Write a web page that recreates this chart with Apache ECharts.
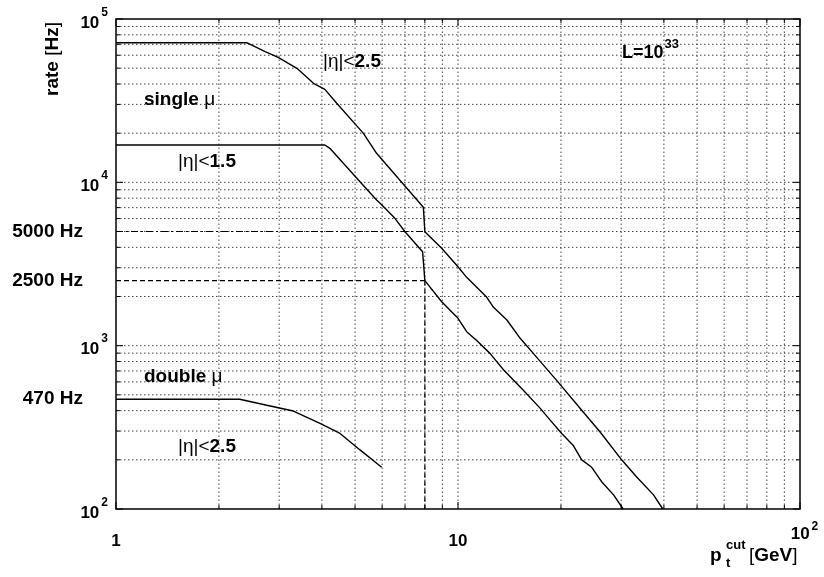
<!DOCTYPE html>
<html><head><meta charset="utf-8">
<script src="https://cdn.jsdelivr.net/npm/echarts@6/dist/echarts.min.js"></script>
<style>html,body{margin:0;padding:0;background:#fff}#c{width:824px;height:577px}</style>
</head><body><div id="c"></div>
<script>
// ---- data ----
const single25X = [1, 2.41, 2.73, 2.98, 3.38, 3.78, 4.08, 4.42, 5.29, 5.78, 7.16, 7.92, 8.0, 8.96, 10.0, 10.6, 12.1, 12.7, 13.9, 15.2, 16.6, 19.4, 23.2, 26.0, 30.1, 33.3, 37.3, 39.7];
const single25Y = [71600, 71600, 63100, 58200, 49900, 40400, 37100, 30500, 19950, 15060, 8970, 7030, 4980, 3945, 3040, 2620, 1995, 1716, 1436, 1109, 897, 615, 394, 297, 200, 157, 122, 100];
const single15X = [1, 4.08, 4.22, 5.17, 5.78, 5.92, 6.54, 7.0, 7.88, 8.0, 8.96, 10.0, 10.6, 11.3, 12.4, 13.6, 15.5, 17.4, 18.6, 20.1, 21.7, 23.0, 24.6, 26.3, 28.5, 30.4];
const single15Y = [16930, 16930, 16150, 10090, 7800, 7435, 6020, 4984, 3760, 2500, 1858, 1470, 1217, 1082, 897, 710, 535, 413, 350, 290, 246, 200, 180, 147, 122, 100];
const doubleX = [1, 2.30, 2.76, 3.30, 3.95, 4.52, 5.17, 5.98];
const doubleY = [470, 470, 432, 398, 334, 290, 230, 180];
const refLevels = [5000, 2500];
const refCutX = 8;
const hzLabelValues = [5000, 2500, 470];
const hzLabelTexts = ['5000 Hz', '2500 Hz', '470 Hz'];
const xTicks = [1, 2, 3, 4, 5, 6, 7, 8, 9, 10, 20, 30, 40, 50, 60, 70, 80, 90, 100];
const yTicks = [100, 200, 300, 400, 500, 600, 700, 800, 900, 1000, 2000, 3000, 4000, 5000, 6000, 7000, 8000, 9000, 10000, 20000, 30000, 40000, 50000, 60000, 70000, 80000, 90000, 100000];
const X_MIN = 1, X_MAX = 100, Y_MIN = 100, Y_MAX = 100000;

const F = '"Liberation Sans", Arial, Helvetica, sans-serif';
const zip = (a, b) => a.map((v, i) => [v, b[i]]);
const isMajor = v => Math.abs(Math.log10(v) - Math.round(Math.log10(v))) < 1e-6;

const chart = echarts.init(document.getElementById('c'), null, {renderer: 'canvas'});

const gridStyle = {stroke: '#444', lineWidth: 1, lineDash: [1.5, 2.5]};
const tickStyle = {stroke: '#000', lineWidth: 1};

function yGridRender(params, api) {
  const v = api.value(1);
  const p = api.coord([X_MIN, v]);
  const q = api.coord([X_MAX, v]);
  const len = isMajor(v) ? 7 : 4;
  return {type: 'group', silent: true, children: [
    {type: 'line', shape: {x1: p[0], y1: p[1], x2: q[0], y2: q[1]}, style: gridStyle},
    {type: 'line', shape: {x1: p[0], y1: p[1], x2: p[0] + len, y2: p[1]}, style: tickStyle},
    {type: 'line', shape: {x1: q[0] - len, y1: q[1], x2: q[0], y2: q[1]}, style: tickStyle}
  ]};
}
function xGridRender(params, api) {
  const v = api.value(0);
  const p = api.coord([v, Y_MIN]);
  const q = api.coord([v, Y_MAX]);
  const len = isMajor(v) ? 7 : 4;
  return {type: 'group', silent: true, children: [
    {type: 'line', shape: {x1: p[0], y1: p[1], x2: q[0], y2: q[1]}, style: gridStyle},
    {type: 'line', shape: {x1: p[0], y1: p[1], x2: p[0], y2: p[1] - len}, style: tickStyle},
    {type: 'line', shape: {x1: q[0], y1: q[1], x2: q[0], y2: q[1] + len}, style: tickStyle}
  ]};
}

const curveStyle = {color: '#000', width: 1.4};
function curve(name, x, y) {
  return {name, type: 'line', data: zip(x, y), showSymbol: false, symbol: 'none',
    lineStyle: curveStyle, itemStyle: {color: '#000'}, z: 5, silent: true};
}

chart.setOption({
  animation: false,
  backgroundColor: '#fff',
  grid: {left: 116, right: 24, top: 19, bottom: 68, show: true, borderColor: '#000', borderWidth: 1.5, backgroundColor: 'transparent'},
  xAxis: {
    type: 'log', logBase: 10, min: X_MIN, max: X_MAX,
    axisLine: {show: false}, axisTick: {show: false}, splitLine: {show: false}, minorTick: {show: false},
    axisLabel: {
      margin: 14, color: '#000', showMinLabel: true, showMaxLabel: true,
      formatter: v => {
        const e = Math.round(Math.log10(v));
        return e < 2 ? '{n|' + Math.round(Math.pow(10, e)) + '}' : '{b|10}{s|' + e + '}';
      },
      rich: {
        n: {fontSize: 17, fontWeight: 'bold', fontFamily: F, lineHeight: 20, padding: [17, 0, 0, 0], color: '#000'},
        b: {fontSize: 17, fontWeight: 'bold', fontFamily: F, lineHeight: 20, verticalAlign: 'bottom', padding: [0, 0, 0, 9], color: '#000'},
        s: {fontSize: 12, fontWeight: 'bold', fontFamily: F, lineHeight: 12, verticalAlign: 'bottom', padding: [0, 0, 10, 2], color: '#000'}
      }
    }
  },
  yAxis: {
    type: 'log', logBase: 10, min: Y_MIN, max: Y_MAX,
    axisLine: {show: false}, axisTick: {show: false}, splitLine: {show: false}, minorTick: {show: false},
    axisLabel: {
      margin: 8, color: '#000', showMinLabel: true, showMaxLabel: true,
      formatter: v => '{b|10}{s|' + Math.round(Math.log10(v)) + '}',
      rich: {
        b: {fontSize: 17, fontWeight: 'bold', fontFamily: F, lineHeight: 25, verticalAlign: 'bottom', color: '#000'},
        s: {fontSize: 12, fontWeight: 'bold', fontFamily: F, lineHeight: 12, verticalAlign: 'bottom', padding: [0, 0, 13, 2], color: '#000'}
      }
    }
  },
  series: [
    {type: 'custom', name: 'ygrid', data: yTicks.map(v => [X_MIN, v]), renderItem: yGridRender, silent: true, z: 1, clip: false},
    {type: 'custom', name: 'xgrid', data: xTicks.map(v => [v, Y_MIN]), renderItem: xGridRender, silent: true, z: 1, clip: false},
    curve('single |η|<2.5', single25X, single25Y),
    curve('single |η|<1.5', single15X, single15Y),
    curve('double |η|<2.5', doubleX, doubleY),
    {type: 'line', name: 'ref5000', data: [[X_MIN, refLevels[0]], [refCutX, refLevels[0]]], showSymbol: false, symbol: 'none',
      lineStyle: {color: '#000', width: 1.2, type: [7, 3, 2, 3]}, z: 4, silent: true},
    {type: 'line', name: 'ref2500', data: [[X_MIN, refLevels[1]], [refCutX, refLevels[1]]], showSymbol: false, symbol: 'none',
      lineStyle: {color: '#000', width: 1.2, type: [5, 3]}, z: 4, silent: true},
    {type: 'line', name: 'refCut', data: [[refCutX, refLevels[1]], [refCutX, Y_MIN]], showSymbol: false, symbol: 'none',
      lineStyle: {color: '#000', width: 1.2, type: [5, 3]}, z: 4, silent: true}
  ]
});

// ---- annotations ----
const BIG = 19;
const rich = {
  r: {fontSize: BIG, fontFamily: F, fontWeight: 'normal', fill: '#000'},
  b: {fontSize: BIG, fontFamily: F, fontWeight: 'bold', fill: '#000'}
};
function txt(x, y, text, opts) {
  opts = opts || {};
  return {type: 'text', x, y, rotation: opts.rotation || 0, silent: true, z: 10,
    style: {text, rich: opts.rich || rich, align: opts.align || 'left', verticalAlign: opts.va || 'middle',
      fontFamily: F, fontSize: opts.size || BIG, fontWeight: 'bold', fill: '#000'}};
}
const supRich = {
  b: {fontSize: 18, fontFamily: F, fontWeight: 'bold', lineHeight: 25, verticalAlign: 'bottom', fill: '#000'},
  s: {fontSize: 13, fontFamily: F, fontWeight: 'bold', lineHeight: 13, verticalAlign: 'bottom', padding: [0, 0, 12, 1], fill: '#000'}
};
const graphics = [
  txt(323, 62, '{r|\u007Cη\u007C<}{b|2.5}'),
  txt(144, 100, '{b|single }{r|μ}'),
  txt(178, 162, '{r|\u007Cη\u007C<}{b|1.5}'),
  txt(622, 50, '{b|L=10}{s|33}', {rich: supRich}),
  txt(144, 377, '{b|double }{r|μ}'),
  txt(178, 447, '{r|\u007Cη\u007C<}{b|2.5}'),
  txt(53, 59, '{b|rate }{r|[}{b|Hz}{r|]}', {align: 'center', rotation: Math.PI / 2}),
  // x-axis title: p_t^cut [GeV]
  txt(710, 556, 'p', {rich: {}}),
  txt(726, 545, 'cut', {rich: {}, size: 13}),
  txt(726, 563, 't', {rich: {}, size: 13}),
  txt(749, 556, '{r|[}{b|GeV}{r|]}')
];
hzLabelValues.forEach((v, i) => {
  const py = chart.convertToPixel({xAxisIndex: 0, yAxisIndex: 0}, [X_MIN, v])[1];
  graphics.push({type: 'text', x: 83, y: py, silent: true,
    style: {text: hzLabelTexts[i], align: 'right', verticalAlign: 'middle', fontFamily: F, fontSize: BIG, fontWeight: 'bold', fill: '#000'}});
});
chart.setOption({graphic: graphics});
</script>
</body></html>
